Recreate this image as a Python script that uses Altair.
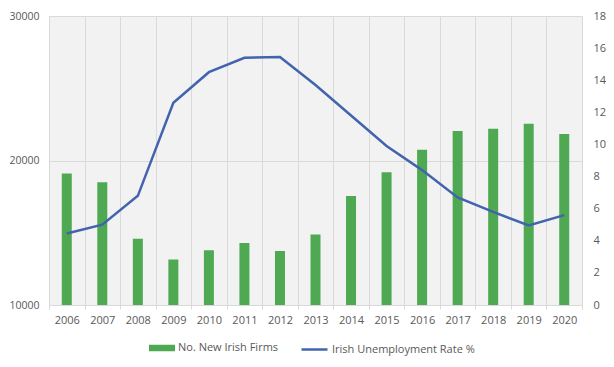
import altair as alt
import pandas as pd

years = [str(y) for y in range(2006, 2021)]
firms = [19100, 18500, 14580, 13150, 13790, 14290, 13740, 14880, 17550, 19180,
         20750, 22040, 22200, 22540, 21840]
unemp = [4.45, 5.0, 6.8, 12.6, 14.5, 15.4, 15.45, 13.7, 11.8, 9.9,
         8.4, 6.7, 5.8, 4.95, 5.6]

df = pd.DataFrame({"Year": years, "Firms": firms, "Unemp": unemp})

FONT = "Open Sans"
LBL = "#595959"
GRID = "#D9D9D9"

x = alt.X(
    "Year:O", title=None, sort=years,
    scale=alt.Scale(paddingInner=0, paddingOuter=0),
    axis=alt.Axis(labelAngle=0, tickBand="extent", grid=True, gridColor=GRID,
                  domainColor=GRID, tickColor=GRID, tickSize=4, labelPadding=5,
                  labelFont=FONT, labelFontSize=11, labelColor=LBL),
)

bars = alt.Chart(df).mark_bar(size=10, clip=True).encode(
    x=x,
    y=alt.Y("Firms:Q", title=None,
            scale=alt.Scale(domain=[10000, 30000], zero=False, nice=False),
            axis=alt.Axis(values=[10000, 20000, 30000], format="d", grid=True, gridColor=GRID,
                          domain=False, ticks=False, labelPadding=10,
                          labelFont=FONT, labelFontSize=10.5, labelColor=LBL)),
    fill=alt.Fill("s:N", scale=alt.Scale(domain=["No. New Irish Firms"], range=["#4EA952"]),
                  legend=alt.Legend(title=None, orient="none", legendX=100, legendY=319,
                                    symbolType="M-1,-0.25H1V0.25H-1Z", symbolSize=676,
                                    symbolStrokeWidth=0, labelFont=FONT, labelFontSize=11,
                                    labelColor=LBL, labelOffset=3, padding=0)),
).transform_calculate(s="'No. New Irish Firms'")

line = alt.Chart(df).mark_line(strokeWidth=2.5).encode(
    x=x,
    y=alt.Y("Unemp:Q", title=None,
            scale=alt.Scale(domain=[0, 18], nice=False),
            axis=alt.Axis(orient="right", values=list(range(0, 19, 2)), grid=False,
                          domain=False, ticks=False, labelPadding=11,
                          labelFont=FONT, labelFontSize=11, labelColor=LBL)),
    stroke=alt.Stroke("s:N", scale=alt.Scale(domain=["Irish Unemployment Rate %"], range=["#4264AE"]),
                      legend=alt.Legend(title=None, orient="none", legendX=251, legendY=319,
                                        symbolType="stroke", symbolSize=676,
                                        symbolStrokeWidth=2.5, labelFont=FONT, labelFontSize=11,
                                        labelColor=LBL, labelOffset=3, padding=0)),
).transform_calculate(s="'Irish Unemployment Rate %'")

chart = alt.layer(bars, line).resolve_scale(y="independent", fill="independent", stroke="independent").properties(
    width=533, height=289,
    autosize=alt.AutoSizeParams(type="none"),
    padding={"left": 41, "top": 8, "right": 24, "bottom": 54},
).configure_view(fill="#F2F2F2", stroke=None)

chart.save("out.html", embed_options={"renderer": "svg", "actions": False})
